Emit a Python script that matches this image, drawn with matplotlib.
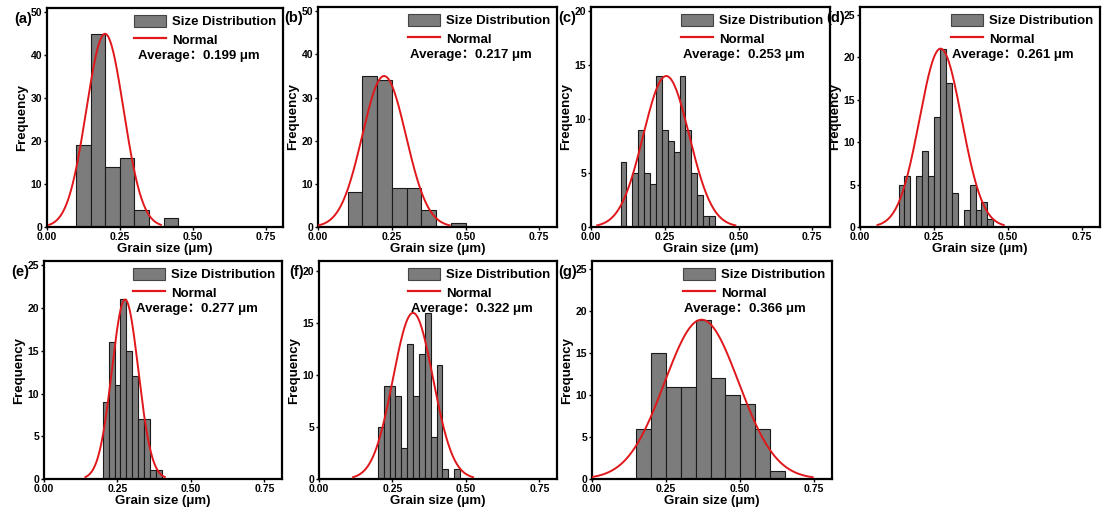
import numpy as np
import matplotlib
matplotlib.use("Agg")
import matplotlib.pyplot as plt
from matplotlib.patches import Patch
from matplotlib.lines import Line2D

plt.rcParams['font.family'] = ['Liberation Sans', 'Noto Sans CJK SC', 'DejaVu Sans']
plt.rcParams['font.weight'] = 'bold'

# dados
panel_labels = ['(a)', '(b)', '(c)', '(d)', '(e)', '(f)', '(g)']
averages = [0.199, 0.217, 0.253, 0.261, 0.277, 0.322, 0.366]

bin_start = [0.10, 0.10, 0.10, 0.13, 0.20, 0.20, 0.15]
bin_width = [0.05, 0.05, 0.02, 0.02, 0.02, 0.02, 0.05]

counts_a = [19, 45, 14, 16, 4, 0, 2]
counts_b = [8, 35, 34, 9, 9, 4, 0, 1]
counts_c = [6, 0, 5, 9, 5, 4, 14, 9, 8, 7, 14, 9, 5, 3, 1, 1]
counts_d = [5, 6, 0, 6, 9, 6, 13, 21, 17, 4, 0, 2, 5, 2, 3, 1]
counts_e = [9, 16, 11, 21, 15, 12, 7, 7, 1, 1]
counts_f = [5, 9, 9, 8, 3, 13, 8, 12, 16, 4, 11, 1, 0, 1]
counts_g = [6, 15, 11, 11, 19, 12, 10, 9, 6, 1]
all_counts = [counts_a, counts_b, counts_c, counts_d, counts_e, counts_f, counts_g]

# curva normal ajustada (centro, desvio, pico)
fit_mean = [0.199, 0.224, 0.255, 0.272, 0.276, 0.320, 0.370]
fit_sigma = [0.064, 0.074, 0.078, 0.071, 0.045, 0.068, 0.125]
fit_peak = [45, 35, 14, 21, 21, 16, 19]

y_top = [51, 51, 20.4, 25.9, 25.5, 21, 26]
y_step = [10, 10, 5, 5, 5, 5, 5]
x_ticks = [0.0, 0.25, 0.5, 0.75]

# posicoes dos eixos em pixels (esquerda, direita, topo, base)
W, H = 1103, 508
boxes = [
    (47, 283, 8, 227), (318, 557, 7, 227), (591, 830, 7, 227), (860, 1100, 7, 227),
    (44, 282, 261, 479), (319, 557, 261, 479), (592, 832, 261, 479),
]


def desenhar_painel(fig, i):
    l, r, t, b = boxes[i]
    ax = fig.add_axes([l / W, 1 - b / H, (r - l) / W, (b - t) / H])

    counts = np.array(all_counts[i])
    edges = bin_start[i] + bin_width[i] * np.arange(len(counts))
    mask = counts > 0
    ax.bar(edges[mask], counts[mask], width=bin_width[i], align='edge',
           color='#7c7c7c', edgecolor='#1a1a1a', linewidth=0.8, zorder=2)

    mu, sd = fit_mean[i], fit_sigma[i]
    xs = np.linspace(mu - 3 * sd, mu + 3 * sd, 300)
    ys = fit_peak[i] * np.exp(-(xs - mu) ** 2 / (2 * sd ** 2))
    ax.plot(xs, ys, color='#e0181b', linewidth=1.4, zorder=3)

    ax.set_xlim(0, 0.81)
    ax.set_ylim(0, y_top[i])
    ax.set_xticks(x_ticks)
    ax.set_xticklabels([f"{v:.2f}" for v in x_ticks])
    yt = np.arange(0, y_top[i] + 0.01, y_step[i])
    ax.set_yticks(yt)
    ax.set_yticklabels([f"{v:g}" for v in yt])
    ax.tick_params(labelsize=7.5, length=2.5, width=1, pad=1, direction='out')
    for s in ax.spines.values():
        s.set_linewidth(1.6)

    ax.set_xlabel("Grain size (μm)", fontsize=9.5, fontweight='bold', labelpad=1)
    ax.set_ylabel("Frequency", fontsize=9.5, fontweight='bold', labelpad=2)

    handles = [Patch(facecolor='#7c7c7c', edgecolor='#444444', linewidth=0.8),
               Line2D([0], [0], color='#e0181b', linewidth=1.6)]
    ax.legend(handles, ["Size Distribution", "Normal"], loc='upper right',
              bbox_to_anchor=(1.0, 1.0), frameon=False,
              prop={'size': 9.5, 'weight': 'bold'},
              handlelength=2.4, handleheight=1.1, handletextpad=0.5,
              labelspacing=0.35, borderaxespad=0.3, borderpad=0.2)

    ax.text(0.385, 0.78, f"Average：{averages[i]:.3f} μm", transform=ax.transAxes,
            ha='left', va='center', fontsize=9.5, fontweight='bold')

    # rotulo do painel, a esquerda dos ticks do topo
    ax.text(-0.064, 0.95, panel_labels[i], transform=ax.transAxes,
            ha='right', va='center', fontsize=10.5, fontweight='bold')
    return ax


def main():
    fig = plt.figure(figsize=(W / 100, H / 100), dpi=100)
    for i in range(len(panel_labels)):
        desenhar_painel(fig, i)
    fig.savefig("out.png", dpi=100, facecolor='white')


if __name__ == "__main__":
    main()
